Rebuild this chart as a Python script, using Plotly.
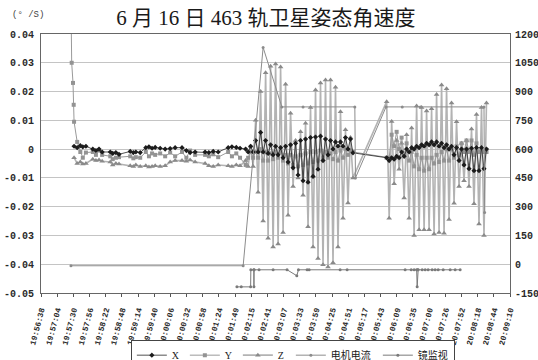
import plotly.graph_objects as go

# Sample instants in seconds after 19:56:38
t_sec = [
    53, 58, 63, 67, 72, 83, 88, 93, 98, 111, 115, 120, 125, 143, 148, 152, 159,
    168, 173, 178, 183, 191, 199, 207, 215, 226, 233, 239, 247, 263, 269, 276, 284,
    300, 306, 313, 319,
    328, 332, 336, 340, 344, 348, 352, 356, 360, 364, 368, 372, 376, 380, 384, 388,
    392, 396, 400, 404, 408, 412, 416, 420, 424, 428, 432, 436, 440, 444, 448, 452,
    456, 460, 464, 468, 472, 476, 480, 484, 488, 492, 496, 500,
    554, 558, 562, 566, 570, 574, 578, 582, 586, 590, 594, 598, 602, 606, 610, 614,
    618, 622, 626, 630, 634, 638, 642, 646, 650, 654, 658, 662, 666, 670, 674, 678,
    682, 686, 690, 694, 698, 702, 706, 710, 714,
]

# Angular rates (deg/s)
rate_x = [
    0.001, 0.0005, 0.0012, 0.0008, 0.001, 0.0, -0.0005, 0.0, -0.001,
    -0.001, -0.0015, -0.0012, -0.0018, -0.0008, -0.0012, -0.001, -0.0012,
    0.0005, 0.0008, 0.0003, 0.0006, 0.0003, 0.0, 0.0002, 0.0005,
    0.0005, -0.0005, -0.0012, -0.001, -0.001, -0.0012, -0.0008, -0.001,
    0.0005, 0.0008, 0.0006, 0.0003,
    0.0, -0.001, 0.001, -0.001, 0.003, -0.001, 0.0058, -0.001, 0.003, -0.0015,
    0.0015, -0.002, 0.001, -0.002, 0.0005, -0.003, 0.001, -0.0045, 0.0015, -0.0065,
    0.002, -0.009, 0.003, -0.011, 0.0035, -0.0115, 0.004, -0.0095, 0.0042, -0.007,
    0.0045, -0.004, 0.0035, -0.002, 0.003, 0.0, 0.0025, 0.001, 0.0025, 0.001,
    0.004, 0.0, 0.0035, -0.0013,
    -0.003, -0.004, -0.003, -0.0035, -0.0025, -0.003, -0.001, -0.0025, 0.0, -0.001,
    0.0005, 0.0, 0.001, 0.0005, 0.0015, 0.001, 0.002, 0.0015, 0.0025, 0.0015,
    0.0025, 0.001, 0.002, 0.0005, 0.0015, 0.0, 0.001, -0.002, 0.0005, -0.004,
    0.0, -0.0055, 0.0, -0.0068, 0.0003, -0.0075, 0.0005, -0.0075, 0.0005, -0.0068,
    0.0,
]

rate_y = [
    0.0095, 0.0025, -0.001, -0.003, -0.0012, -0.001, -0.002, -0.0005, -0.002,
    -0.0025, -0.0035, -0.003, -0.0028, -0.0025, -0.0032, -0.0028, -0.003,
    -0.001, -0.0025, -0.0015, -0.002, -0.0015, -0.0025, -0.0012, -0.0025,
    -0.001, -0.003, -0.0005, -0.002, -0.002, -0.0025, -0.0018, -0.0028,
    -0.001, -0.0025, -0.0015, -0.003,
    -0.0055, -0.003, -0.001, -0.003, -0.001, -0.003, 0.0, -0.004, -0.001, -0.004,
    -0.0015, -0.0035, -0.001, -0.003, -0.001, -0.004, -0.002, -0.005, -0.002, -0.0055,
    -0.0025, -0.006, -0.002, -0.0055, -0.0015, -0.005, -0.001, -0.0045, -0.001, -0.004,
    -0.0005, -0.003, -0.001, -0.003, -0.0015, -0.0035, -0.001, -0.004, -0.0005, -0.003,
    0.0, -0.002, -0.0005, -0.001,
    -0.003, -0.003, 0.005, 0.001, 0.006, 0.0, 0.004, -0.002, 0.002, -0.004,
    -0.001, -0.006, -0.002, -0.007, -0.003, -0.0075, -0.003, -0.007, -0.003, -0.005,
    -0.002, -0.0045, -0.001, -0.004, 0.0, -0.004, 0.0, -0.003, 0.001, -0.002,
    0.002, -0.001, 0.003, -0.001, 0.003, -0.002, 0.002, -0.001, 0.0, -0.001,
    -0.001,
]

rate_z = [
    -0.003, -0.005, -0.0045, -0.0052, -0.005, -0.0035, -0.004, -0.0038, -0.0042,
    -0.0045, -0.0055, -0.005, -0.0052, -0.0058, -0.006, -0.0055, -0.006,
    -0.0058, -0.0062, -0.006, -0.0058, -0.006, -0.0058, -0.0045, -0.004,
    -0.004, -0.0042, -0.0038, -0.0045, -0.005, -0.0058, -0.006, -0.0055,
    -0.0058, -0.006, -0.0055, -0.0058,
    -0.004, -0.006, 0.001, -0.006, 0.010, -0.015, 0.020, -0.025, 0.0265, -0.031,
    0.0288, -0.034, 0.0296, -0.033, 0.0285, -0.029, 0.0225, -0.023, 0.0125, -0.013,
    0.003, -0.010, 0.006, -0.016, 0.009, -0.027, 0.0145, -0.034, 0.0205, -0.038,
    0.023, -0.0402, 0.024, -0.041, 0.024, -0.0395, 0.0215, -0.034, 0.013, -0.024,
    0.0067, -0.0187, 0.004, -0.010,
    0.0165, -0.024, 0.0096, -0.012, 0.003, -0.007, 0.002, -0.017, 0.005, -0.024,
    0.0073, -0.030, 0.0150, -0.028, 0.0145, -0.028, 0.0132, -0.028, 0.0140, -0.0295,
    0.0190, -0.029, 0.0223, -0.0292, 0.0210, -0.0245, 0.0160, -0.0188, 0.0095, -0.013,
    0.002, -0.011, 0.003, -0.013, 0.007, -0.019, 0.012, -0.026, 0.0145, -0.030,
    0.016,
]

# Y readings just after power-on, before the steady part
y_lead_t = [47.5, 49.2, 51.3, 52.4]
y_lead_v = [0.06, 0.030, 0.023, 0.0154]

# Motor current (right axis)
motor_t = [48, 324, 356, 386, 420, 503, 504, 553, 579, 608, 710, 711]
motor_v = [-8, -8, 1130, 820, 820, 820, 450, 820, 820, 820, 820, 270]

# Mirror monitor (right axis)
mirror_t = [314, 321, 336, 336.3, 341, 341.3, 341.6, 349.5, 372, 394.4, 410, 412.6,
            426.5, 429.7, 479.4, 490.6, 583.6, 593.3, 598, 602.1, 602.9, 603.7,
            604.5, 610.9, 615.7, 620.5, 626.9, 631.7, 636.6, 644.6, 655.8, 663.8,
            671.8]
mirror_v = [-118, -118, -118, -29, -29, -118, -29, -29, -29, -29, -60, -29,
            -29, -29, -29, -29, -29, -29, -29, -29, -118, -29,
            -29, -29, -29, -29, -29, -29, -29, -29, -29, -29,
            -29]

tick_labels = ["19:56:38", "19:57:04", "19:57:30", "19:57:56", "19:58:22", "19:58:48",
               "19:59:14", "19:59:40", "20:00:06", "20:00:32", "20:00:58", "20:01:24",
               "20:01:49", "20:02:15", "20:02:41", "20:03:07", "20:03:33", "20:03:59",
               "20:04:25", "20:04:51", "20:05:17", "20:05:43", "20:06:09", "20:06:35",
               "20:07:00", "20:07:26", "20:07:52", "20:08:18", "20:08:44", "20:09:10"]
tick_step = 25.92  # seconds between labelled ticks

left_ticks = [0.04, 0.03, 0.02, 0.01, 0.0, -0.01, -0.02, -0.03, -0.04, -0.05]
left_text = ["0.04", "0.03", "0.02", "0.01", "0", "-0.01", "-0.02", "-0.03", "-0.04", "-0.05"]
right_ticks = [1200, 1050, 900, 750, 600, 450, 300, 150, 0, -150]
right_text = [str(v) for v in right_ticks]

tick_pos = [i * tick_step for i in range(len(tick_labels))]

fig = go.Figure()

fig.add_trace(go.Scatter(
    x=t_sec, y=rate_z, name="Z", mode="lines+markers", legendrank=3, legendwidth=8,
    line=dict(color="#b3b3b3", width=1.6),
    marker=dict(symbol="triangle-up", size=5, color="#8a8a8a"),
))
fig.add_trace(go.Scatter(
    x=y_lead_t + t_sec, y=y_lead_v + rate_y, name="Y", mode="lines+markers", legendrank=2,
    legendwidth=8,
    line=dict(color="#9a9a9a", width=1),
    marker=dict(symbol="square", size=4, color="#939393"),
))
fig.add_trace(go.Scatter(
    x=t_sec, y=rate_x, name="X", mode="lines+markers", legendrank=1, legendwidth=8,
    line=dict(color="#262626", width=0.8),
    marker=dict(symbol="diamond", size=4, color="#1c1c1c"),
))
fig.add_trace(go.Scatter(
    x=motor_t, y=motor_v, name="电机电流", mode="lines+markers", yaxis="y2", legendrank=4,
    legendwidth=42,
    line=dict(color="#8c8c8c", width=1),
    marker=dict(symbol="circle", size=3, color="#8c8c8c"),
))
fig.add_trace(go.Scatter(
    x=mirror_t, y=mirror_v, name="镜监视", mode="lines+markers", yaxis="y2", legendrank=5,
    legendwidth=31,
    line=dict(color="#7a7a7a", width=1),
    marker=dict(symbol="circle", size=3, color="#7a7a7a"),
))

tick_font = dict(family="Liberation Mono", size=10, color="#2a2a2a", weight="bold")

fig.update_layout(
    width=538, height=360,
    margin=dict(l=41, r=28, t=34, b=67, autoexpand=False),
    paper_bgcolor="white", plot_bgcolor="white",
    showlegend=True,
    title=dict(
        text="6 月 16 日 463 轨卫星姿态角速度",
        x=0.494, xanchor="center", y=0.952, yanchor="middle",
        font=dict(family="Liberation Serif, Noto Sans CJK SC", size=21, color="#1a1a1a"),
    ),
    xaxis=dict(
        range=[0, tick_pos[-1]], tickmode="array", tickvals=tick_pos, ticktext=tick_labels,
        tickangle=-75, automargin=False, ticklabelstandoff=5,
        tickfont=dict(family="Liberation Mono", size=8, color="#2a2a2a", weight="bold"),
        ticks="outside", ticklen=3, tickcolor="#555",
        showgrid=False, zeroline=False,
        showline=True, linecolor="#666", linewidth=1, mirror=True,
    ),
    yaxis=dict(
        range=[-0.05, 0.04], tickmode="array", tickvals=left_ticks, ticktext=left_text,
        tickfont=tick_font, showgrid=True, gridcolor="#c4c4c4", gridwidth=1,
        zeroline=False, showline=True, linecolor="#666", linewidth=1, mirror=True,
        ticks="", ticklabelstandoff=4, automargin=False,
    ),
    yaxis2=dict(
        range=[-150, 1200], tickmode="array", tickvals=right_ticks, ticktext=right_text,
        overlaying="y", side="right", showgrid=False, zeroline=False,
        tickfont=tick_font, showline=False, ticks="", ticklabelstandoff=4, automargin=False,
    ),
    legend=dict(
        orientation="h", x=0.537, xanchor="center", y=-0.24, yanchor="middle",
        bordercolor="#444", borderwidth=1, bgcolor="white",
        font=dict(family="Liberation Serif, Noto Sans CJK SC", size=10, color="#1a1a1a"),
        itemwidth=30, tracegroupgap=0,
    ),
    annotations=[dict(
        text="(° /S)", x=(10 - 41) / 469, y=1 + (34 - 15) / 259, xref="paper", yref="paper",
        showarrow=False, xanchor="left", yanchor="middle",
        font=dict(family="Liberation Mono", size=9, color="#444"),
    )],
)

fig.write_html("out.html", config={"displayModeBar": False})
